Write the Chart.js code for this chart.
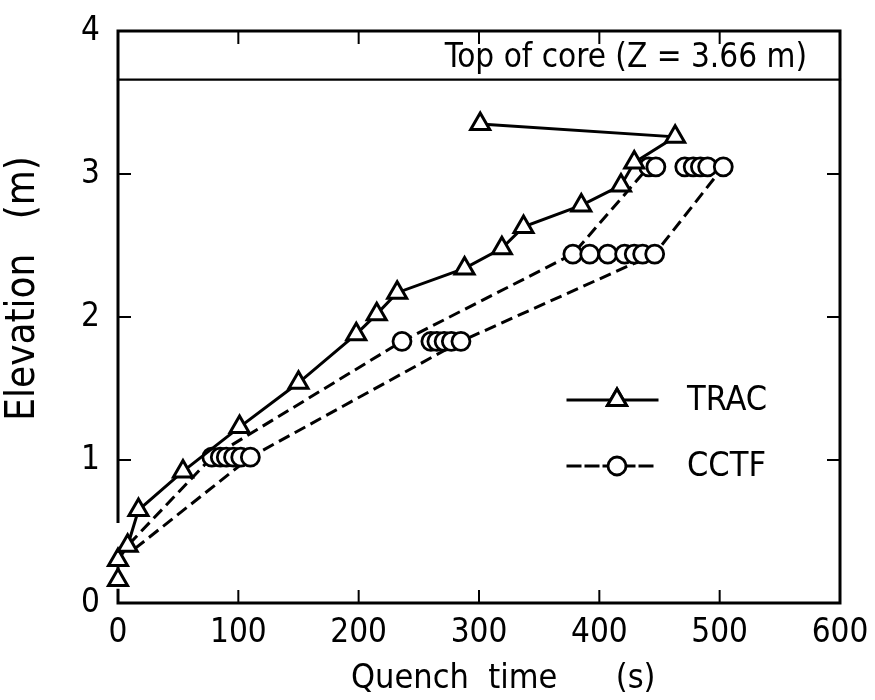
<!DOCTYPE html>
<html>
<head>
<meta charset="utf-8">
<script src="https://cdn.jsdelivr.net/npm/chart.js@4.4.1/dist/chart.umd.min.js"></script>
<style>
html,body{margin:0;padding:0;background:#ffffff;}
#wrap{width:875px;height:700px;position:relative;}
canvas{display:block;}
</style>
</head>
<body>
<div id="wrap"><canvas id="c" width="875" height="700"></canvas></div>
<script>
// ---------- data ----------
const xTickValues = [0, 100, 200, 300, 400, 500, 600];
const yTickValues = [0, 1, 2, 3, 4];

// TRAC prediction (solid line, triangles), in drawing order
const tracTime = [0, 0, 8, 17, 54, 101, 150, 198, 215, 232, 288, 319, 337, 385, 418, 429, 463, 301];
const tracElev = [0.16, 0.30, 0.40, 0.65, 0.92, 1.23, 1.54, 1.88, 2.02, 2.17, 2.34, 2.48, 2.63, 2.78, 2.92, 3.08, 3.26, 3.35];

// CCTF measurements (open circles)
const cctfTime = [78, 85, 90, 96, 102, 110,
                  236, 260, 265, 271, 277, 285,
                  378, 392, 407, 421, 429, 436, 446,
                  441, 447, 471, 478, 484, 490, 503];
const cctfElev = [1.02, 1.02, 1.02, 1.02, 1.02, 1.02,
                  1.83, 1.83, 1.83, 1.83, 1.83, 1.83,
                  2.44, 2.44, 2.44, 2.44, 2.44, 2.44, 2.44,
                  3.05, 3.05, 3.05, 3.05, 3.05, 3.05, 3.05];

// CCTF envelope (dashed lines)
const cctfEarlyTime = [9, 78, 236, 378, 441];
const cctfEarlyElev = [0.41, 1.02, 1.83, 2.44, 3.05];
const cctfLateTime  = [14, 110, 285, 446, 503];
const cctfLateElev  = [0.38, 1.02, 1.83, 2.44, 3.05];

const topOfCore = 3.66;
const topOfCoreLabel = 'Top of core (Z = 3.66 m)';
const legendLabels = ['TRAC', 'CCTF'];
const xTitle = '     Quench  time      (s)';
const yTitle = '     Elevation   (m)';

// ---------- helpers ----------
const FONT = "'Liberation Sans Narrow','DejaVu Sans Condensed','Arial Narrow','Liberation Sans',sans-serif";
const toXY = (xs, ys) => xs.map((v, i) => ({x: v, y: ys[i]}));

const framePlugin = {
  id: 'frame',
  afterDatasetsDraw(chart) {
    const {ctx, chartArea: a, scales: {x, y}} = chart;
    ctx.save();
    ctx.strokeStyle = '#000';
    ctx.lineCap = 'square';
    // frame (left edge broken near the bottom, as in the original)
    ctx.lineWidth = 3;
    ctx.beginPath();
    ctx.moveTo(a.left, a.bottom); ctx.lineTo(a.right, a.bottom);
    ctx.lineTo(a.right, a.top); ctx.lineTo(a.left, a.top);
    ctx.lineTo(a.left, y.getPixelForValue(0.57));
    ctx.moveTo(a.left, a.bottom); ctx.lineTo(a.left, y.getPixelForValue(0.09));
    ctx.stroke();
    // inward ticks
    ctx.lineWidth = 2;
    const tl = 12;
    ctx.beginPath();
    x.ticks.forEach(t => {
      if (t.value <= x.min || t.value >= x.max) return;
      const px = x.getPixelForValue(t.value);
      ctx.moveTo(px, a.bottom); ctx.lineTo(px, a.bottom - tl);
      ctx.moveTo(px, a.top); ctx.lineTo(px, a.top + tl);
    });
    y.ticks.forEach(t => {
      if (t.value <= y.min || t.value >= y.max) return;
      const py = y.getPixelForValue(t.value);
      ctx.moveTo(a.left, py); ctx.lineTo(a.left + tl, py);
      ctx.moveTo(a.right, py); ctx.lineTo(a.right - tl, py);
    });
    ctx.stroke();
    // top of core
    const cy = y.getPixelForValue(topOfCore);
    ctx.lineWidth = 2.2;
    ctx.beginPath(); ctx.moveTo(a.left, cy); ctx.lineTo(a.right, cy); ctx.stroke();
    ctx.fillStyle = '#000';
    ctx.font = '33px ' + FONT;
    ctx.textAlign = 'right';
    ctx.textBaseline = 'alphabetic';
    ctx.fillText(topOfCoreLabel, a.right - 33, cy - 13);

    // legend
    const lx0 = 568, lx1 = 657, lxm = 617, tx = 687;
    const rows = [400, 466];
    // TRAC
    ctx.lineWidth = 3; ctx.setLineDash([]);
    ctx.beginPath(); ctx.moveTo(lx0, rows[0]); ctx.lineTo(lx1, rows[0]); ctx.stroke();
    ctx.fillStyle = '#fff'; ctx.lineWidth = 3;
    Chart.helpers.drawPoint(ctx, {pointStyle: 'triangle', radius: 11, borderWidth: 3, rotation: 0}, lxm, rows[0]);
    ctx.fill(); ctx.stroke();
    // CCTF
    ctx.lineWidth = 3; ctx.setLineDash([12, 6]);
    ctx.beginPath(); ctx.moveTo(lx0, rows[1]); ctx.lineTo(lx1, rows[1]); ctx.stroke();
    ctx.setLineDash([]);
    ctx.fillStyle = '#fff'; ctx.lineWidth = 2.8;
    ctx.beginPath(); ctx.arc(lxm, rows[1], 9, 0, Math.PI * 2); ctx.fill(); ctx.stroke();
    ctx.fillStyle = '#000';
    ctx.font = '34px ' + FONT;
    ctx.textAlign = 'left'; ctx.textBaseline = 'middle';
    ctx.fillText(legendLabels[0], tx, rows[0] + 1);
    ctx.fillText(legendLabels[1], tx, rows[1] + 1);
    ctx.restore();
  }
};

const ctx = document.getElementById('c').getContext('2d');
new Chart(ctx, {
  type: 'scatter',
  data: {
    datasets: [
      {
        label: legendLabels[0], type: 'line', data: toXY(tracTime, tracElev),
        borderColor: '#000', borderWidth: 3, tension: 0, fill: false,
        pointStyle: 'triangle', pointRadius: 11, pointBorderWidth: 3,
        pointBackgroundColor: '#fff', pointBorderColor: '#000', clip: false
      },
      {
        label: legendLabels[1], type: 'scatter', data: toXY(cctfTime, cctfElev),
        showLine: false, pointStyle: 'circle', pointRadius: 9, pointBorderWidth: 2.8,
        pointBackgroundColor: '#fff', pointBorderColor: '#000', clip: false
      },
      {
        label: 'CCTF early', type: 'line', data: toXY(cctfEarlyTime, cctfEarlyElev),
        borderColor: '#000', borderWidth: 3, borderDash: [12, 6], tension: 0,
        pointRadius: 0, fill: false, clip: false
      },
      {
        label: 'CCTF late', type: 'line', data: toXY(cctfLateTime, cctfLateElev),
        borderColor: '#000', borderWidth: 3, borderDash: [12, 6], tension: 0,
        pointRadius: 0, fill: false, clip: false
      }
    ]
  },
  options: {
    responsive: false, animation: false, devicePixelRatio: 1,
    layout: {padding: {top: 31, right: 35, left: 0, bottom: 0}},
    plugins: {legend: {display: false}, tooltip: {enabled: false}},
    scales: {
      x: {
        type: 'linear', min: 0, max: 600,
        afterBuildTicks: s => { s.ticks = xTickValues.map(v => ({value: v})); },
        grid: {display: false}, border: {display: false},
        ticks: {color: '#000', font: {family: FONT, size: 33}, padding: 3, maxRotation: 0},
        title: {display: true, text: xTitle, color: '#000', font: {family: FONT, size: 34}, padding: {top: 0, bottom: 0}},
        afterFit: s => { s.height = 97; }
      },
      y: {
        type: 'linear', min: 0, max: 4,
        afterBuildTicks: s => { s.ticks = yTickValues.map(v => ({value: v})); },
        grid: {display: false}, border: {display: false},
        ticks: {color: '#000', font: {family: FONT, size: 33}, padding: 10},
        title: {display: true, text: yTitle, color: '#000', font: {family: FONT, size: 40}, padding: {top: 0, bottom: 0}},
        afterFit: s => { s.width = 118; }
      }
    }
  },
  plugins: [framePlugin]
});
</script>
</body>
</html>
